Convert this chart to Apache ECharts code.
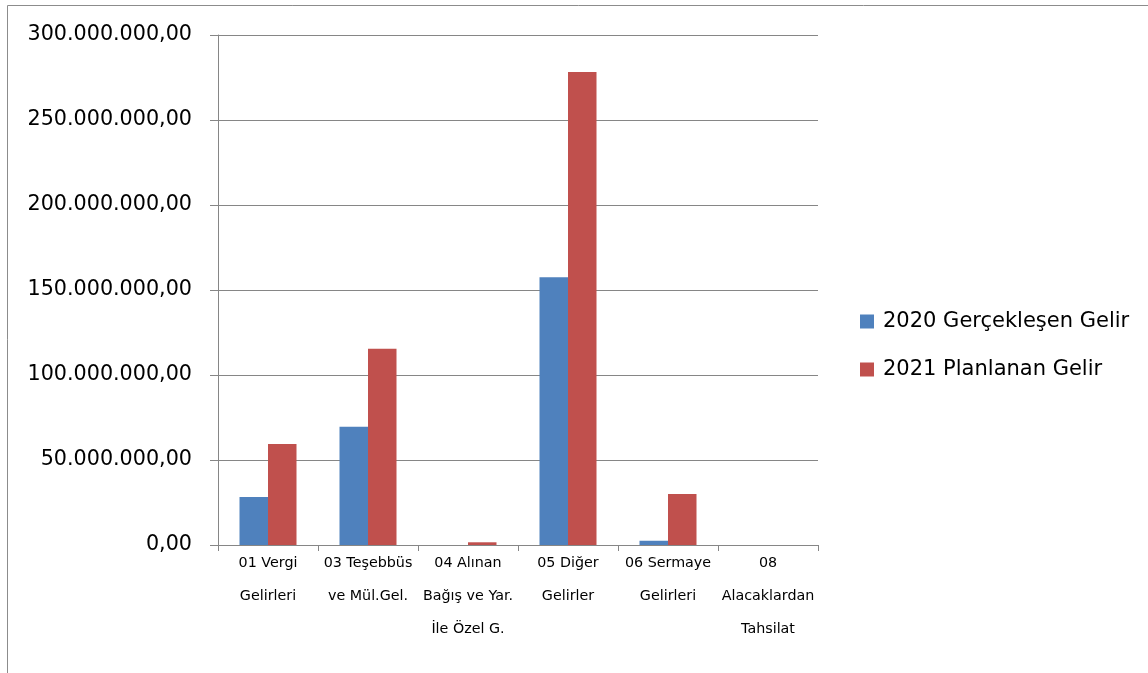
<!DOCTYPE html>
<html><head><meta charset="utf-8">
<script src="https://cdn.jsdelivr.net/npm/echarts@6/dist/echarts.min.js"></script>
<style>html,body{margin:0;padding:0;background:#fff}#c{width:1148px;height:673px}</style>
</head><body><div id="c"></div>
<script>
var categories = ['01 Vergi\nGelirleri', '03 Teşebbüs\nve Mül.Gel.', '04 Alınan\nBağış ve Yar.\nİle Özel G.', '05 Diğer\nGelirler', '06 Sermaye\nGelirleri', '08\nAlacaklardan\nTahsilat'];
var seriesNames = ['2020 Gerçekleşen Gelir', '2021 Planlanan Gelir'];
var gercek2020 = [28200000, 69600000, 0, 157500000, 2500000, 0];
var plan2021 = [59400000, 115400000, 1600000, 278200000, 30000000, 0];

function fmt(v){
  var s = Math.round(v).toString().replace(/\B(?=(\d{3})+(?!\d))/g, '.');
  return s + ',00';
}
var chart = echarts.init(document.getElementById('c'));
chart.setOption({
  animation: false,
  textStyle: {fontFamily: 'DejaVu Sans'},
  graphic: [{type:'rect', shape:{x:7.5,y:5.5,width:1200,height:700}, style:{fill:'none', stroke:'#8c8c8c', lineWidth:1}}],
  grid: {left: 218, right: 330, top: 35, bottom: 128},
  legend: {
    orient: 'vertical', left: 855, top: 306, itemWidth: 14, itemHeight: 14, itemGap: 27,
    icon: 'rect',
    textStyle: {fontSize: 21, lineHeight: 21, color: '#000', fontFamily: 'DejaVu Sans', padding: [0,0,0,4]},
    data: seriesNames
  },
  xAxis: {
    type: 'category', data: categories,
    axisLine: {lineStyle: {color: '#868686'}},
    axisTick: {show: true, length: 6, lineStyle: {color: '#868686'}},
    axisLabel: {fontSize: 14.3, color: '#000', lineHeight: 33, margin: 2, interval: 0, fontFamily: 'DejaVu Sans'}
  },
  yAxis: {
    type: 'value', min: 0, max: 300000000, interval: 50000000,
    axisLine: {show: true, lineStyle: {color: '#868686'}},
    axisTick: {show: true, length: 8, lineStyle: {color: '#868686'}},
    splitLine: {lineStyle: {color: '#868686'}},
    axisLabel: {fontSize: 20.7, color: '#000', margin: 26, formatter: fmt, fontFamily: 'DejaVu Sans'}
  },
  series: [
    {name: seriesNames[0], type: 'bar', data: gercek2020, itemStyle: {color: '#4F81BD'}, barGap: '0%', barCategoryGap: '43%'},
    {name: seriesNames[1], type: 'bar', data: plan2021, itemStyle: {color: '#C0504D'}, barGap: '0%', barCategoryGap: '43%'}
  ]
});
</script></body></html>
